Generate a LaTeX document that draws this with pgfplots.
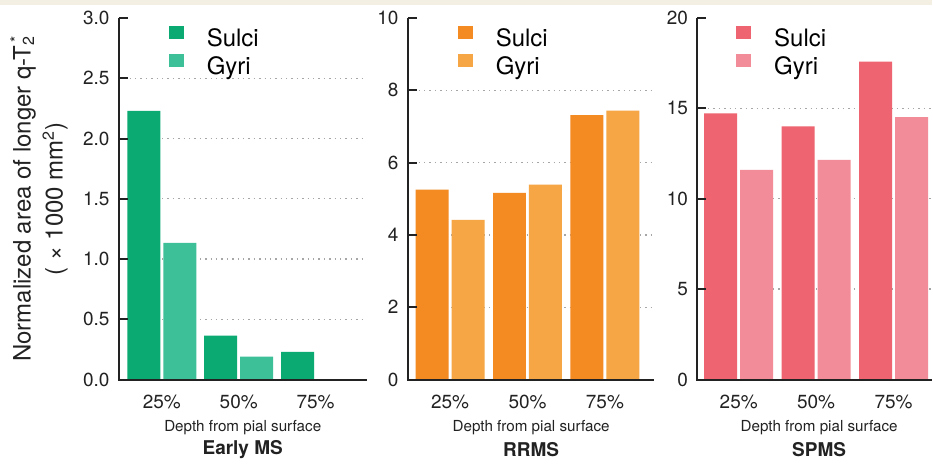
\documentclass[border=0pt]{standalone}
\usepackage{fontspec}
\setmainfont{TeX Gyre Heros}
\usepackage{pgfplots}
\pgfplotsset{compat=1.18}
\definecolor{gS}{HTML}{0BAA72}
\definecolor{gG}{HTML}{3DBF98}
\definecolor{oS}{HTML}{F38A22}
\definecolor{oG}{HTML}{F6A645}
\definecolor{rS}{HTML}{EE6470}
\definecolor{rG}{HTML}{F28C98}
\definecolor{beige}{HTML}{F3EFE2}
\definecolor{ink}{HTML}{222222}
\tikzset{gridl/.style={dotted, line width=0.7pt, black!35},
  tkl/.style={font=\fontsize{9.5}{11}\selectfont, text=ink}}
\pgfplotsset{
  panel/.style={
    scale only axis, height=181pt, ymin=0,
    hide axis,
    ybar=1.5pt, bar width=16.5pt,
    clip=false,
    legend image code/.code={\fill[##1] (0pt,1pt) rectangle (7.5pt,7.5pt);},
    legend cell align=left,
    legend style={draw=none, fill=none, inner sep=0pt, outer sep=0pt,
      anchor=north west, row sep=0.5pt,
      font=\fontsize{12}{14}\selectfont,
      nodes={inner sep=0pt, text height=9pt, text depth=3pt, font=\fontsize{12}{14}\selectfont},
      /tikz/every odd column/.append style={column sep=11.5pt}},
  },
}
% y tick: xmin, value, label
\newcommand{\ytk}[3]{%
  \draw[ink, line width=1pt] (axis cs:#1,#2) -- ++(4.5pt,0pt);
  \node[tkl, anchor=east, inner sep=0pt] at ([xshift=-4.5pt]axis cs:#1,#2) {#3};}
\newcommand{\ytklab}[3]{%
  \node[tkl, anchor=east, inner sep=0pt] at ([xshift=-4.5pt]axis cs:#1,#2) {#3};}
\newcommand{\frameaxes}{%
  \node[tkl] at ([yshift=-11pt]axis cs:0,0) {25\%};
  \node[tkl] at ([yshift=-11pt]axis cs:1,0) {50\%};
  \node[tkl] at ([yshift=-11pt]axis cs:2,0) {75\%};
  \draw[ink, line width=1pt] (rel axis cs:0,1) -- (rel axis cs:0,0) -- (rel axis cs:1,0);}
\newcommand{\paneltext}[2][0pt]{%
  \node[font=\fontsize{7.6}{9}\selectfont, text=ink] at ([xshift=#1,yshift=-24pt]rel axis cs:0.5,0) {Depth from pial surface};
  \node[font=\bfseries\fontsize{9.5}{11}\selectfont, text=ink] at ([xshift=#1,yshift=-35pt]rel axis cs:0.5,0) {#2};
}
\begin{document}
\begin{tikzpicture}
\fill[white] (0,0) rectangle (466.5pt,229.5pt);
\fill[beige] (0,227pt) rectangle (466.5pt,229.5pt);

% Panel 1: Early MS
\begin{axis}[panel, at={(59.5pt,39.5pt)}, anchor=south west,
  width=124pt, xmin=-0.558, xmax=2.663, ymax=3,
  legend style={at={(0.2016,0.979)}}]
\draw[gridl] (axis cs:-0.558,0.5) -- (axis cs:2.663,0.5);
\draw[gridl] (axis cs:-0.558,1.0) -- (axis cs:2.663,1.0);
\draw[gridl] (axis cs:-0.558,1.5) -- (axis cs:2.663,1.5);
\draw[gridl] (axis cs:-0.558,2.0) -- (axis cs:2.663,2.0);
\draw[gridl] (axis cs:-0.558,2.5) -- (axis cs:2.663,2.5);
\addplot[fill=gS, draw=none] coordinates {(0,2.23) (1,0.365) (2,0.23)};
\addplot[fill=gG, draw=none] coordinates {(0,1.135) (1,0.19)};
\legend{Sulci,Gyri}
\frameaxes
\ytklab{-0.558}{0}{0.0}
\ytk{-0.558}{0.5}{0.5}
\ytk{-0.558}{1.0}{1.0}
\ytk{-0.558}{1.5}{1.5}
\ytk{-0.558}{2.0}{2.0}
\ytk{-0.558}{2.5}{2.5}
\ytk{-0.558}{3.0}{3.0}
\paneltext{Early MS}
\node[rotate=90, align=center, font=\fontsize{12}{16}\selectfont, text=ink]
  at ([xshift=-40pt]rel axis cs:0,0.5)
  {Normalized area of longer q-T\textsubscript{2}\llap{\textsuperscript{*}}\\( × 1000 mm\textsuperscript{2})};
\end{axis}

% Panel 2: RRMS
\begin{axis}[panel, at={(204.15pt,39.5pt)}, anchor=south west,
  width=123.35pt, xmin=-0.545, xmax=2.638, ymax=10,
  legend style={at={(0.2027,0.979)}}]
\draw[gridl] (axis cs:-0.545,2) -- (axis cs:2.638,2);
\draw[gridl] (axis cs:-0.545,4) -- (axis cs:2.638,4);
\draw[gridl] (axis cs:-0.545,6) -- (axis cs:2.638,6);
\draw[gridl] (axis cs:-0.545,8) -- (axis cs:2.638,8);
\addplot[fill=oS, draw=none] coordinates {(0,5.25) (1,5.16) (2,7.31)};
\addplot[fill=oG, draw=none] coordinates {(0,4.42) (1,5.39) (2,7.44)};
\legend{Sulci,Gyri}
\frameaxes
\ytklab{-0.545}{0}{0}
\ytk{-0.545}{2}{2}
\ytk{-0.545}{4}{4}
\ytk{-0.545}{6}{6}
\ytk{-0.545}{8}{8}
\ytk{-0.545}{10}{10}
\paneltext{RRMS}
\end{axis}

% Panel 3: SPMS
\begin{axis}[panel, at={(349pt,39.5pt)}, anchor=south west,
  width=117.5pt, xmin=-0.535, xmax=2.497, ymax=20,
  legend style={at={(0.166,0.979)}}]
\draw[gridl] (axis cs:-0.535,5) -- (axis cs:2.497,5);
\draw[gridl] (axis cs:-0.535,10) -- (axis cs:2.497,10);
\draw[gridl] (axis cs:-0.535,15) -- (axis cs:2.497,15);
\addplot[fill=rS, draw=none] coordinates {(0,14.73) (1,14.0) (2,17.59)};
\addplot[fill=rG, draw=none] coordinates {(0,11.6) (1,12.15) (2,14.51)};
\legend{Sulci,Gyri}
\frameaxes
\ytklab{-0.535}{0}{0}
\ytk{-0.535}{5}{5}
\ytk{-0.535}{10}{10}
\ytk{-0.535}{15}{15}
\ytk{-0.535}{20}{20}
\paneltext[2.25pt]{SPMS}
\end{axis}
\end{tikzpicture}
\end{document}
